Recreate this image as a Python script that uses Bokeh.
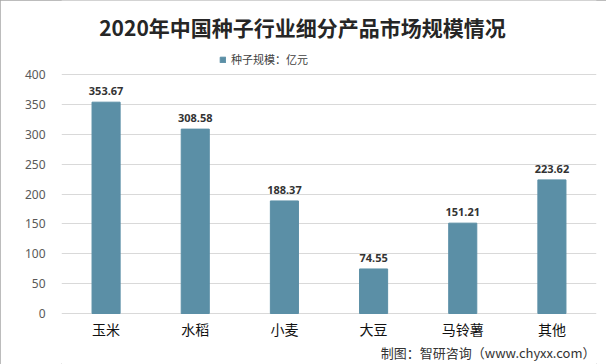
from bokeh.plotting import figure
from bokeh.models import ColumnDataSource, Legend, LegendItem, FactorRange, Label, Range1d
from bokeh.core.properties import value
from bokeh.embed import file_html
from bokeh.resources import INLINE

categories = ["玉米", "水稻", "小麦", "大豆", "马铃薯", "其他"]
values = [353.67, 308.58, 188.37, 74.55, 151.21, 223.62]
y_ticks = [0, 50, 100, 150, 200, 250, 300, 350, 400]
title_text = "2020年中国种子行业细分产品市场规模情况"
series_name = "种子规模：亿元"
source_text = "制图：智研咨询（www.chyxx.com）"

BAR = "#5B8FA6"
CJK = "Noto Sans CJK SC"

W, H = 606, 364
LEFT, RIGHT = 61, 10
Y0_PX, Y400_PX = 313, 74          # pixel rows of 0 and 400 inside the figure
ppu = (Y0_PX - Y400_PX) / 400.0
y_start = 0 - (H - Y0_PX) / ppu
y_end = 400 + Y400_PX / ppu
FW = W - LEFT - RIGHT

src = ColumnDataSource(dict(cat=categories, val=values,
                            lbl=[f"{v:.2f}" for v in values],
                            zero=[0] * len(values)))

p = figure(width=W, height=H, x_range=FactorRange(factors=categories),
           y_range=Range1d(y_start, y_end), output_backend="svg",
           toolbar_location=None,
           min_border_left=LEFT, min_border_right=RIGHT, min_border_top=0,
           min_border_bottom=0)
p.outline_line_color = None
p.background_fill_color = "white"
p.border_fill_color = "white"
p.styles = {"outline": "1px solid #a6a6a6", "outline-offset": "-1px"}

r = p.vbar(x="cat", top="val", width=0.315, source=src, color=BAR)

# value labels
p.text(x="cat", y="val", text="lbl", source=src, text_align="center",
       text_baseline="bottom", y_offset=-7, text_font=value("Noto Sans"),
       text_font_size="11px", text_font_style="bold", text_color="#333333")

# category labels
p.text(x="cat", y="zero", text="cat", source=src, text_align="center",
       text_baseline="middle", y_offset=15, text_font=value(CJK),
       text_font_size="14px", text_color="#111111")

# axes
p.xaxis.visible = False
p.yaxis.ticker = y_ticks
p.yaxis.axis_line_color = None
p.yaxis.major_tick_line_color = None
p.yaxis.minor_tick_line_color = None
p.yaxis.major_label_text_font = "Noto Sans"
p.yaxis.major_label_text_font_size = "12px"
p.yaxis.major_label_text_color = "#595959"
p.yaxis.major_label_standoff = 10

p.xgrid.grid_line_color = None
p.ygrid.grid_line_color = "#d9d9d9"
p.ygrid.ticker = y_ticks

# title
p.add_layout(Label(x=302 - LEFT, y=H - 26, x_units="screen", y_units="screen",
                   text=title_text, text_align="center", text_baseline="middle",
                   text_font=CJK, text_font_size="21px", text_font_style="bold",
                   text_color="#262626"))

# legend
legend = Legend(items=[LegendItem(label=series_name, renderers=[r])],
                location=(219 - LEFT, H - 67), orientation="horizontal",
                border_line_color=None, background_fill_alpha=0,
                padding=0, margin=0, glyph_width=7, glyph_height=7,
                label_height=14, label_standoff=5,
                label_text_font=CJK, label_text_font_size="11px",
                label_text_color="#404040")
p.add_layout(legend, "center")

# footer
p.add_layout(Label(x=FW - 1, y=H - 352, x_units="screen", y_units="screen",
                   text=source_text, text_align="right", text_baseline="middle",
                   text_font=CJK, text_font_size="13px", text_color="#333333"))

open("out.html", "w").write(file_html(p, INLINE))
